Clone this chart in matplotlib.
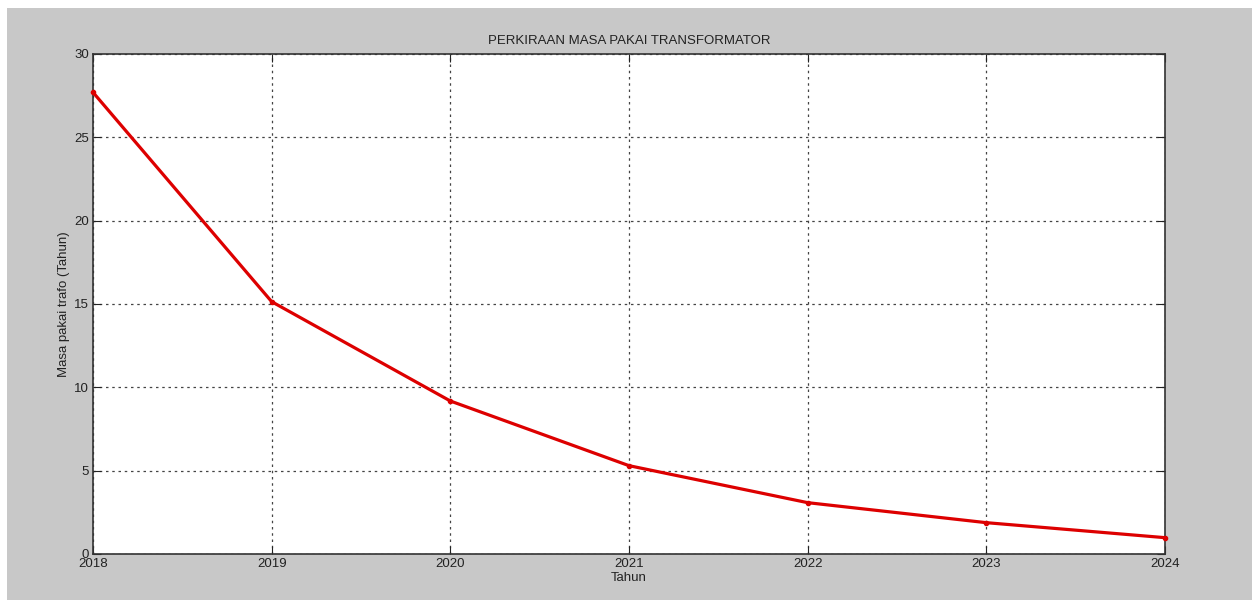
import numpy as np
import matplotlib
matplotlib.use("Agg")
import matplotlib.pyplot as plt
from matplotlib.patches import Rectangle

tahun = [2018, 2019, 2020, 2021, 2022, 2023, 2024]
masa_pakai = [27.7, 15.14, 9.18, 5.30, 3.08, 1.88, 0.98]

plt.rcParams['font.family'] = ['Liberation Sans', 'DejaVu Sans']

fig = plt.figure(figsize=(12.52, 6), dpi=100, facecolor='white')
# grey figure area, white strip at top and left like the screenshot
fig.patches.append(Rectangle((7 / 1252, 0), 1 - 7 / 1252, 1 - 8 / 600,
                             transform=fig.transFigure, facecolor='#c8c8c8',
                             edgecolor='none', zorder=-10))

ax = fig.add_axes([93 / 1252, 1 - 554 / 600, (1165 - 93) / 1252, (554 - 54) / 600])
ax.set_facecolor('white')

ax.plot(tahun, masa_pakai, color='#dd0000', linewidth=2.3, marker='.', markersize=6,
        zorder=3, clip_on=False)

ax.set_xlim(2018, 2024)
ax.set_ylim(0, 30)
ax.set_xticks(tahun)
ax.set_yticks(np.arange(0, 31, 5))
ax.grid(True, color='#444444', linestyle=(0, (2, 3)), linewidth=0.9)

ax.tick_params(direction='in', length=6, top=True, right=True, labelsize=9.5,
               colors='#222222', pad=3)
for s in ax.spines.values():
    s.set_color('#333333')
    s.set_linewidth(1.2)

ax.set_title("PERKIRAAN MASA PAKAI TRANSFORMATOR", fontsize=9.5, color='#222222', pad=7)
ax.set_xlabel("Tahun", fontsize=9.5, color='#222222', labelpad=1)
ax.set_ylabel("Masa pakai trafo (Tahun)", fontsize=9.5, color='#222222', labelpad=3)

fig.savefig("out.png", dpi=100, facecolor=fig.get_facecolor())
